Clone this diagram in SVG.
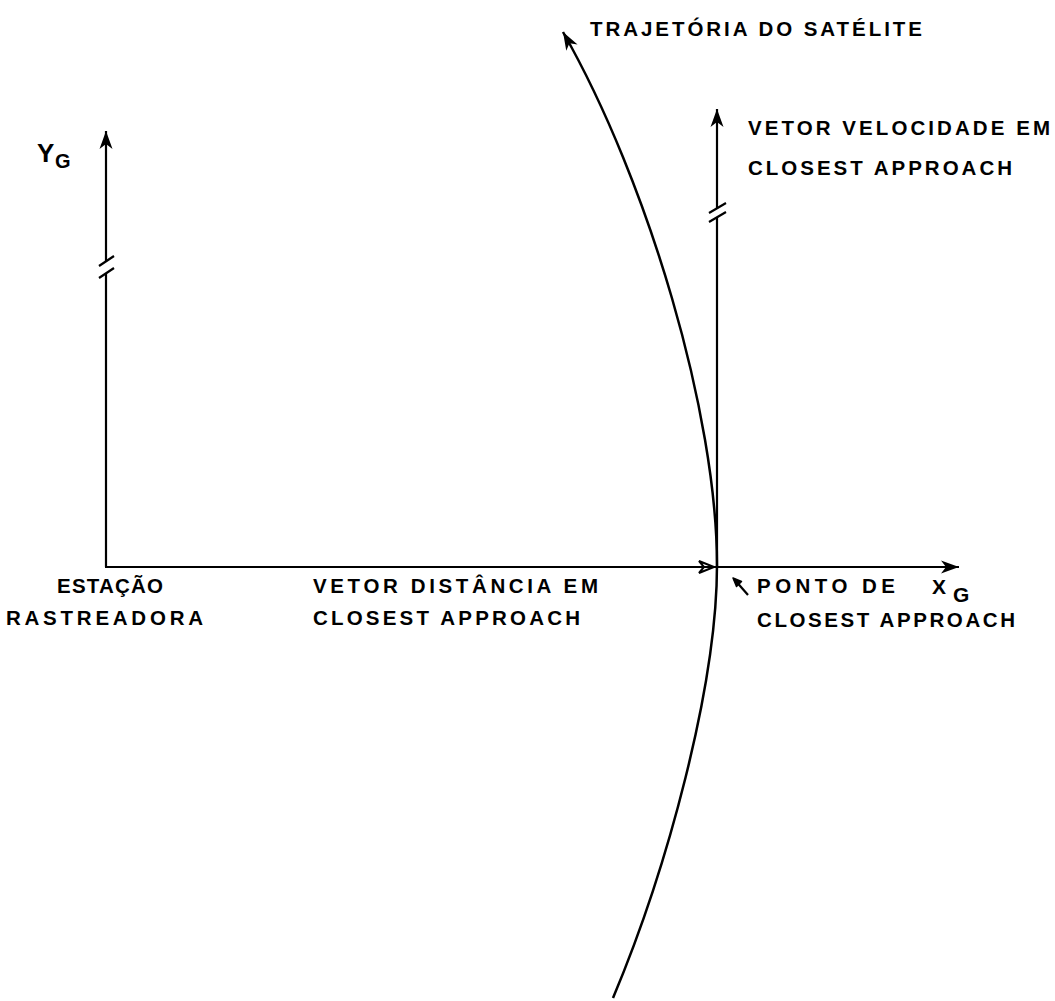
<svg xmlns="http://www.w3.org/2000/svg" width="1055" height="1001" viewBox="0 0 1055 1001">
<style>
  .ln { fill: none; stroke: #000; stroke-width: 2.5; stroke-linecap: butt; }
  .ax { fill: none; stroke: #000; stroke-width: 2.2; }
  .lbl { font-family: "Liberation Sans", Arial, sans-serif; font-weight: bold; font-size: 20.5px; fill: #000; }
  .big { font-family: "Liberation Sans", Arial, sans-serif; font-weight: bold; fill: #000; }
</style>
<defs>
  <marker id="ah" markerUnits="userSpaceOnUse" viewBox="-19 -7 20 14" refX="0" refY="0" markerWidth="20" markerHeight="14" orient="auto">
    <path d="M0,0 L-18,-6.5 L-13,0 L-18,6.5 Z" fill="#000"/>
  </marker>
</defs>
<rect x="0" y="0" width="1055" height="1001" fill="#fff"/>

<g id="connectors">
  <!-- Y axis with break -->
  <path class="ax" d="M106,567 L106,273"/>
  <path class="ax" d="M106,261 L106,131" marker-end="url(#ah)"/>
  <path class="ax" d="M99,266 L114,256 M99,278 L114,268"/>
  <!-- X axis -->
  <path class="ax" d="M105,567 L959,567" marker-end="url(#ah)"/>
  <!-- distance vector arrowhead (hollow) -->
  <path d="M699,561 L714,567 L699,573 L704,567 Z" fill="none" stroke="#000" stroke-width="2"/>
  <!-- velocity vector with break -->
  <path class="ax" d="M717,567 L717,217"/>
  <path class="ax" d="M717,208 L717,109" marker-end="url(#ah)"/>
  <path class="ax" d="M709,213 L726,203 M709,222 L726,212"/>
  <!-- satellite trajectory -->
  <path class="ln" d="M613,998 C667.6,868 717,685 717,565 C717,415 648.5,182 563,32" marker-end="url(#ah)"/>
  <!-- pointer to closest approach point -->
  <path class="ax" d="M748,595 L734,579"/>
  <path d="M733,578 L741.5,581.5 L736.5,586.5 Z" fill="#000" stroke="#000" stroke-width="1.5" stroke-linejoin="round"/>
</g>

<g id="trajetoria">
  <text class="lbl" x="590" y="36" textLength="332" lengthAdjust="spacing">TRAJETÓRIA DO SATÉLITE</text>
</g>
<g id="vetor-velocidade">
  <text class="lbl" x="748" y="135" textLength="302" lengthAdjust="spacing">VETOR VELOCIDADE EM</text>
  <text class="lbl" x="748" y="175" textLength="264" lengthAdjust="spacing">CLOSEST APPROACH</text>
</g>
<g id="eixo-y">
  <text class="big" x="37" y="162" font-size="26">Y</text>
  <text class="big" x="55" y="168" font-size="20">G</text>
</g>
<g id="eixo-x">
  <text class="big" x="932" y="594" font-size="21">X</text>
  <text class="big" x="953" y="602" font-size="21">G</text>
</g>
<g id="estacao">
  <text class="lbl" x="57" y="593" textLength="106" lengthAdjust="spacing">ESTAÇÃO</text>
  <text class="lbl" x="6" y="625" textLength="197" lengthAdjust="spacing">RASTREADORA</text>
</g>
<g id="vetor-distancia">
  <text class="lbl" x="313" y="593" textLength="285" lengthAdjust="spacing">VETOR DISTÂNCIA EM</text>
  <text class="lbl" x="313" y="625" textLength="267" lengthAdjust="spacing">CLOSEST APPROACH</text>
</g>
<g id="ponto">
  <text class="lbl" x="757" y="593" textLength="138" lengthAdjust="spacing">PONTO DE</text>
  <text class="lbl" x="757" y="627" textLength="258" lengthAdjust="spacing">CLOSEST APPROACH</text>
</g>
</svg>
